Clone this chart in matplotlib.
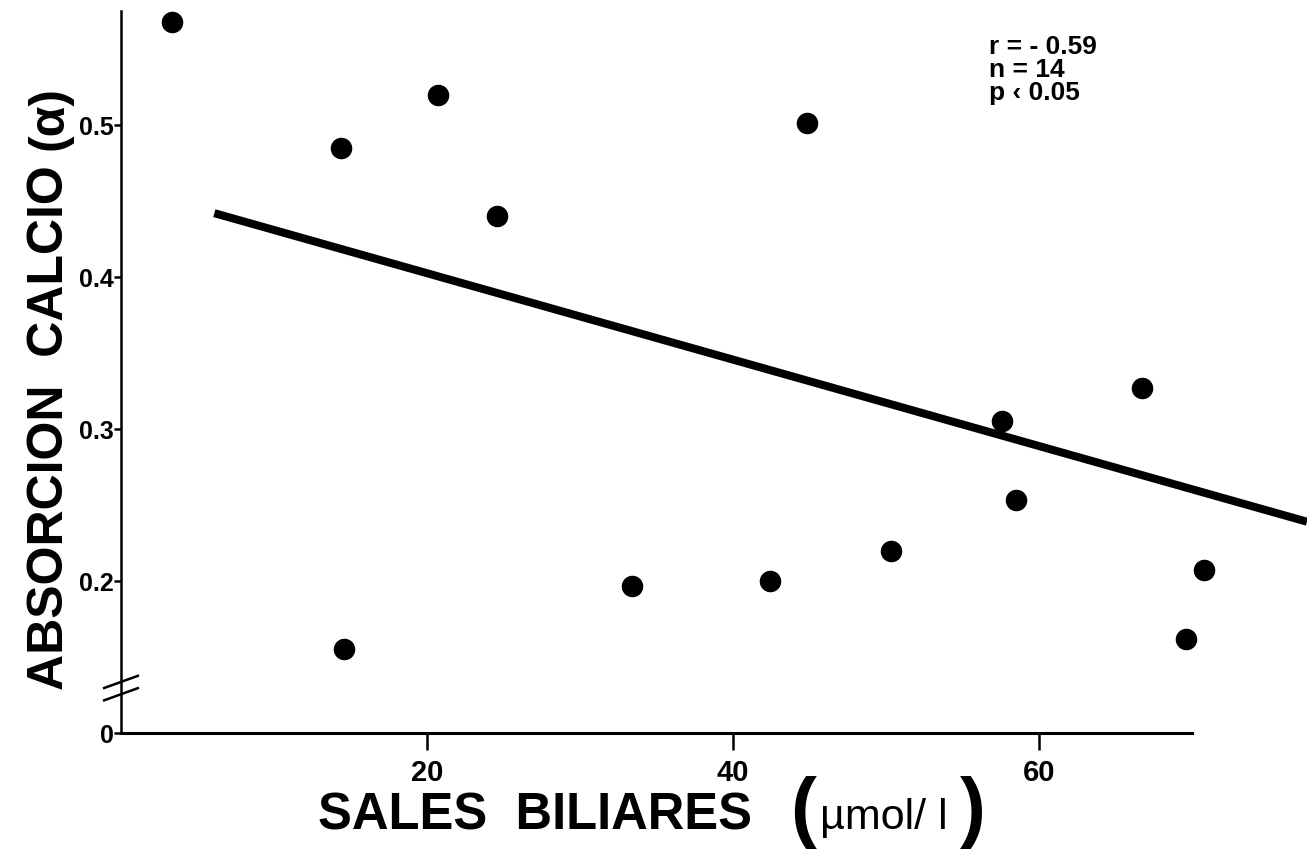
import matplotlib
matplotlib.use('Agg')
import matplotlib.pyplot as plt

plt.rcParams['font.family'] = ['Liberation Sans', 'DejaVu Sans']

# bile salts (umol/l) vs calcium absorption (alpha)
sales_biliares = [3.3, 14.4, 20.7, 24.6, 14.6, 33.4, 42.4, 44.8, 50.3, 57.6, 58.5, 66.7, 70.8, 69.6]
absorcion_calcio = [0.568, 0.485, 0.520, 0.440, 0.155, 0.197, 0.200, 0.501, 0.220, 0.305, 0.253, 0.327, 0.207, 0.162]

# regression line end points
recta_x = [6.1, 77.5]
recta_y = [0.442, 0.239]

x_ticks = [20, 40, 60]
y_ticks = [0.1, 0.2, 0.3, 0.4, 0.5]
y_tick_labels = ['0', '0.2', '0.3', '0.4', '0.5']

fig = plt.figure(figsize=(13.07, 8.53), dpi=100)
ax = fig.add_axes([121 / 1307, 119 / 853, 1 - 121 / 1307, 722 / 853])
ax.set_xlim(0, 77.5)
ax.set_ylim(0.1, 0.575)
ax.patch.set_visible(False)

ax.plot(recta_x, recta_y, color='black', lw=5.8, solid_capstyle='butt', clip_on=False)
ax.plot(sales_biliares, absorcion_calcio, 'o', color='black', ms=14.5, clip_on=False)

for side in ['top', 'right']:
    ax.spines[side].set_visible(False)
ax.spines['left'].set_bounds(0.1, 0.575)
ax.spines['bottom'].set_bounds(0, 70)
ax.spines['left'].set_linewidth(1.8)
ax.spines['bottom'].set_linewidth(2.2)

ax.set_xticks(x_ticks)
ax.set_xticklabels([str(t) for t in x_ticks], fontsize=21, fontweight='bold')
ax.set_yticks(y_ticks)
ax.set_yticklabels(y_tick_labels, fontsize=18, fontweight='bold')
ax.tick_params(axis='x', direction='out', length=12, width=1.8, pad=6)
ax.tick_params(axis='y', direction='out', length=5, width=1.8, pad=0)

# axis break marks on the y axis
for yb in [0.1255, 0.1336]:
    ax.plot([-1.1, 1.1], [yb - 0.004, yb + 0.004], color='black', lw=1.8, clip_on=False)

ax.text(56.7, 0.560, 'r = - 0.59\nn = 14\np \u2039 0.05', fontsize=19, fontweight='bold',
        va='top', ha='left', linespacing=0.95)

# x label pieces
fig.text(318 / 1307, 23 / 853, 'SALES  BILIARES', fontsize=36.5, fontweight='bold', ha='left', va='baseline')
fig.text(790 / 1307, 20 / 853, '(', fontsize=56, fontweight='bold', ha='left', va='baseline')
fig.text(820 / 1307, 24 / 853, '\u00b5mol/ l', fontsize=31, ha='left', va='baseline')
fig.text(960 / 1307, 20 / 853, ')', fontsize=56, fontweight='bold', ha='left', va='baseline')

# y label pieces
fig.text(50 / 1307, (853 - 690) / 853, 'ABSORCION  CALCIO', fontsize=36, fontweight='bold',
         rotation=90, ha='center', va='bottom')
fig.text(50 / 1307, (853 - 150) / 853, '(\u03b1)', fontsize=36, fontweight='bold',
         rotation=90, ha='center', va='bottom')

fig.savefig('out.png', dpi=100)
